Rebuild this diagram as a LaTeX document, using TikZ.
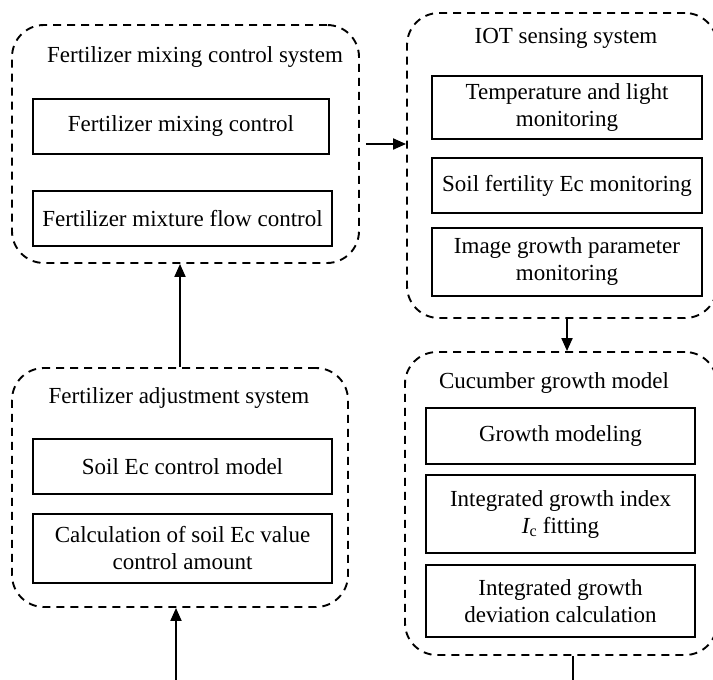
\documentclass[tikz,border=0pt]{standalone}
\usepackage{fontspec}
\setmainfont{Liberation Serif}
\usetikzlibrary{arrows.meta}
\tikzset{
  group/.style={draw, dash pattern=on 8pt off 6pt, line width=1.9pt,
    rounded corners=32pt, inner sep=0pt},
  item/.style={draw, line width=2pt, inner sep=0pt, align=center,
    font=\fontsize{23}{27}\selectfont},
  heading/.style={inner sep=0pt, font=\fontsize{23}{27}\selectfont},
  arr/.style={line width=2pt, -{Triangle[length=13pt,width=11pt]}},
}
\begin{document}
\begin{tikzpicture}[x=1pt,y=-1pt]
\useasboundingbox (0,0) rectangle (713,680);
\clip (0,0) rectangle (713,680);
\fill[white] (0,0) rectangle (713,680);

% group frames
\node[group, minimum width=347pt, minimum height=238pt] (mix) at (185.5,144) {};
\node[group, minimum width=310pt, minimum height=305pt] (iot) at (562,165.5) {};
\node[group, minimum width=336pt, minimum height=239pt] (adj) at (180,487.5) {};
\node[group, minimum width=312pt, minimum height=303pt] (cuc) at (561,503.5) {};

% group headings
\node[heading] (mixT) at (195,57) {Fertilizer mixing control system};
\node[heading] (iotT) at (566,38) {IOT sensing system};
\node[heading] (adjT) at (179,398) {Fertilizer adjustment system};
\node[heading] (cucT) at (554,383) {Cucumber growth model};

% fertilizer mixing control system
\node[item, minimum width=296pt, minimum height=55pt] (mixA) at (181,126.5) {Fertilizer mixing control};
\node[item, minimum width=299pt, minimum height=55pt] (mixB) at (182.5,218.5) {Fertilizer mixture flow control};

% IOT sensing system
\node[item, minimum width=270pt, minimum height=63pt] (iotA) at (567,107.5) {Temperature and light\\monitoring};
\node[item, minimum width=270pt, minimum height=55pt] (iotB) at (567,185.5) {Soil fertility Ec monitoring};
\node[item, minimum width=270pt, minimum height=68pt] (iotC) at (567,262) {Image growth parameter\\monitoring};

% fertilizer adjustment system
\node[item, minimum width=299pt, minimum height=55pt] (adjA) at (182.5,466.5) {Soil Ec control model};
\node[item, minimum width=299pt, minimum height=69pt] (adjB) at (182.5,548.5) {Calculation of soil Ec value\\control amount};

% cucumber growth model
\node[item, minimum width=269pt, minimum height=56pt] (cucA) at (560.5,436) {Growth modeling};
\node[item, minimum width=269pt, minimum height=78pt] (cucB) at (560.5,514) {Integrated growth index\\{\itshape I}\textsubscript{c} fitting};
\node[item, minimum width=269pt, minimum height=72pt] (cucC) at (560.5,601) {Integrated growth\\deviation calculation};

% connectors
\draw[arr] ([xshift=6pt]mix.east) -- (iot.west |- mix.east);
\draw[arr] (iotC.south |- iot.south) -- (iotC.south |- cuc.north);
\draw[arr] (adj.north) -- (adj.north |- mix.south);
\coordinate (loopR) at ([xshift=12pt]cuc.south);
\draw[arr] (loopR) -- ++(0,50) -| ([xshift=-4pt]adj.south);
\end{tikzpicture}
\end{document}
